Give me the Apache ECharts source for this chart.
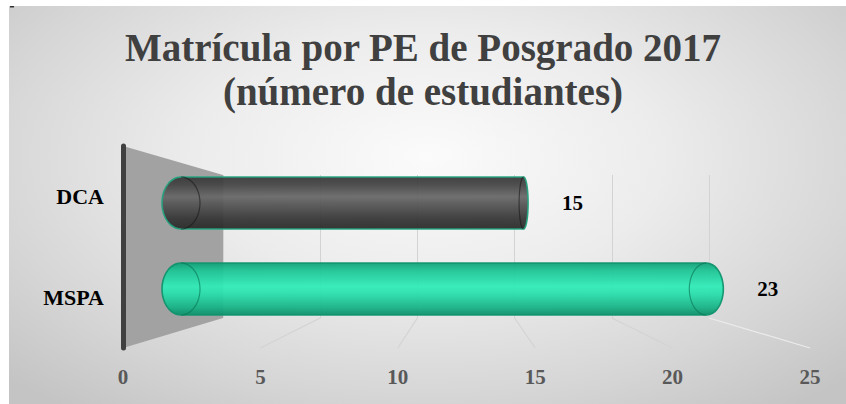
<!DOCTYPE html>
<html>
<head>
<meta charset="utf-8">
<script src="https://cdn.jsdelivr.net/npm/echarts@6/dist/echarts.min.js"></script>
<style>
  html, body { margin: 0; padding: 0; background: #ffffff; }
  #wrap { position: relative; width: 846px; height: 404px; overflow: hidden; }
  #bg { position: absolute; left: 9px; top: 6px; width: 837px; height: 398px;
        background: radial-gradient(ellipse 70% 80% at 50% 38%, #fbfbfb 0%, #ececec 40%, #d6d6d6 75%, #c4c4c4 100%); }
  #main { position: absolute; left: 0; top: 0; width: 846px; height: 404px; }
</style>
</head>
<body>
<div id="wrap"><div id="bg"></div><div id="main"></div></div>
<script>
// ---- data ----
const titleLines = ['Matrícula por PE de Posgrado 2017', '(número de estudiantes)'];
const categories = ['DCA', 'MSPA'];
const values = [15, 23];
const xMin = 0;
const xMax = 25;
const xStep = 5;

// ---- styles ----
const FONT = '"Liberation Serif", "DejaVu Serif", serif';
const VX = 458;      // horizontal vanishing position for cap perspective
const K = 0.0686;    // cap width factor
const barStyles = [
  { stops: [[0, '#383838'], [0.15, '#454545'], [0.38, '#686868'], [0.5, '#585858'], [0.8, '#363636'], [1, '#2a2a2a']],
    stroke: '#23a37e', face: 'rgba(20,20,20,0.55)' },
  { stops: [[0, '#10a077'], [0.15, '#1cc595'], [0.45, '#30ecb8'], [0.6, '#28deab'], [0.85, '#17b386'], [1, '#0c8f69']],
    stroke: '#0f936c', face: 'rgba(8,115,84,0.6)' }
];

const chart = echarts.init(document.getElementById('main'), null, { renderer: 'svg' });

function halfEllipse(cx, cy, rx, ry, from, to, n) {
  const pts = [];
  for (let i = 0; i <= n; i++) {
    const a = from + (to - from) * i / n;
    pts.push([cx + rx * Math.cos(a), cy + ry * Math.sin(a)]);
  }
  return pts;
}

function renderCylinder(params, api) {
  const v = api.value(0), ci = api.value(1);
  const p0 = api.coord([xMin, ci]);
  const p1 = api.coord([v, ci]);
  const band = api.size([0, 1])[1];
  const h = band * 0.605, ry = h / 2, cy = p0[1];
  const rxL = K * Math.abs(p0[0] - VX);
  const rxR = K * Math.abs(p1[0] - VX);
  const st = barStyles[ci];
  const grad = { type: 'linear', x: 0, y: 0, x2: 0, y2: 1,
    colorStops: st.stops.map(s => ({ offset: s[0], color: s[1] })) };
  const pts = [];
  pts.push(...halfEllipse(p1[0], cy, rxR, ry, -Math.PI / 2, Math.PI / 2, 24));
  pts.push(...halfEllipse(p0[0], cy, rxL, ry, Math.PI / 2, Math.PI * 1.5, 24));
  const leftInner = halfEllipse(p0[0], cy, rxL, ry, -Math.PI / 2, Math.PI / 2, 24);
  const rightInner = halfEllipse(p1[0], cy, rxR, ry, Math.PI / 2, Math.PI * 1.5, 24);
  return {
    type: 'group',
    children: [
      { type: 'polygon', shape: { points: pts },
        style: { fill: grad, stroke: st.stroke, lineWidth: 1.6, opacity: 0.94 } },
      { type: 'polyline', shape: { points: leftInner },
        style: { fill: null, stroke: st.face, lineWidth: 1.2 } },
      { type: 'polyline', shape: { points: rightInner },
        style: { fill: null, stroke: st.face, lineWidth: 1.2 } },
      { type: 'text', x: p1[0] + rxR + 34, y: cy,
        style: { text: String(v), fill: '#000000', font: 'bold 21px ' + FONT,
                 verticalAlign: 'middle', align: 'left' } }
    ]
  };
}

const hiddenX = (gi) => ({
  type: 'value', gridIndex: gi, min: xMin, max: xMax, interval: xStep,
  axisLine: { show: false }, axisTick: { show: false }, axisLabel: { show: false },
  splitLine: { show: false }
});
const hiddenY = (gi) => ({
  type: 'category', gridIndex: gi, data: categories, inverse: true,
  axisLine: { show: false }, axisTick: { show: false }, axisLabel: { show: false },
  splitLine: { show: false }
});

const frontX = hiddenX(0);
frontX.axisLabel = { show: true, margin: 18, color: '#595959', fontFamily: FONT,
  fontWeight: 'bold', fontSize: 21 };
const frontY = hiddenY(0);
frontY.axisLine = { show: true, lineStyle: { color: '#404040', width: 5, cap: 'round' } };
frontY.axisLabel = { show: true, margin: 19, color: '#000000', fontFamily: FONT,
  fontWeight: 'bold', fontSize: 22 };
frontY.z = 3;
const backX = hiddenX(1);
backX.splitLine = { show: true, lineStyle: { color: '#d3d3d3', width: 1 } };

chart.setOption({
  animation: false,
  title: {
    text: titleLines.join('\n'), left: 'center', top: 20,
    textStyle: { fontFamily: FONT, fontWeight: 'bold', fontSize: 39, lineHeight: 44, color: '#404040' }
  },
  grid: [
    { left: 123, right: 36, top: 146, bottom: 56 },   // front plane
    { left: 223, right: 137, top: 175, bottom: 86 },  // back plane
    { left: 181, right: 94, top: 160, bottom: 72 }    // bar plane
  ],
  xAxis: [frontX, backX, hiddenX(2)],
  yAxis: [frontY, hiddenY(1), hiddenY(2)],
  series: [{
    type: 'custom', xAxisIndex: 2, yAxisIndex: 2, z: 5,
    renderItem: renderCylinder,
    data: values.map((v, i) => [v, i])
  }]
});

const ticks = [];
for (let t = xMin; t <= xMax; t += xStep) ticks.push(t);
const frontPx = v => chart.convertToPixel({ xAxisIndex: 0 }, v);
const backPx = v => chart.convertToPixel({ xAxisIndex: 1 }, v);
const frontTop = 146, frontBot = 348, backTop = 175, backBot = 318;
const graphics = [
  { type: 'rect', shape: { x: 10, y: 6, width: 4, height: 1.5 }, style: { fill: '#333' }, z: 1 },
  { type: 'polygon', z: 1,
    shape: { points: [[frontPx(xMin), frontTop], [backPx(xMin), backTop], [backPx(xMin), backBot], [frontPx(xMin), frontBot]] },
    style: { fill: '#a2a2a2' } }
];
ticks.filter(t => t !== xMin).forEach(t => {
  graphics.push({ type: 'line', z: 0,
    shape: { x1: backPx(t), y1: backBot, x2: frontPx(t), y2: frontBot },
    style: { stroke: t === xMax ? '#ececec' : '#d3d3d3', lineWidth: 1.2 } });
});
chart.setOption({ graphic: graphics });
</script>
</body>
</html>
